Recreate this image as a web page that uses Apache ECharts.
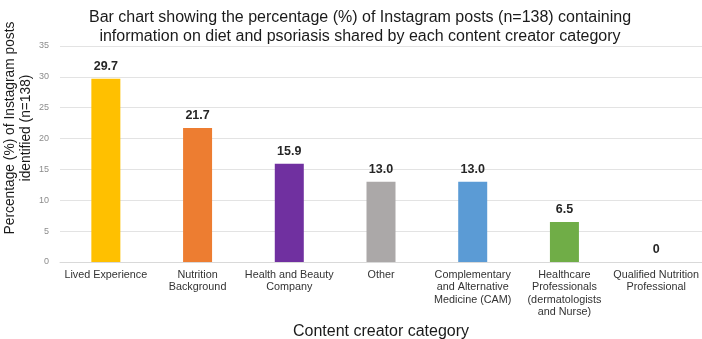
<!DOCTYPE html>
<html>
<head>
<meta charset="utf-8">
<script src="https://cdn.jsdelivr.net/npm/echarts@6/dist/echarts.min.js"></script>
<style>
html,body{margin:0;padding:0;background:#fff;}
#container{width:702px;height:339px;}
</style>
</head>
<body>
<div id="container"></div>
<script>
var categories = ['Lived Experience', 'Nutrition\nBackground', 'Health and Beauty\nCompany', 'Other',
	'Complementary\nand Alternative\nMedicine (CAM)', 'Healthcare\nProfessionals\n(dermatologists\nand Nurse)',
	'Qualified Nutrition\nProfessional'];
var percentages = [29.7, 21.7, 15.9, 13.0, 13.0, 6.5, 0];
var labelText = ['29.7', '21.7', '15.9', '13.0', '13.0', '6.5', '0'];
var barColors = ['#FFC000', '#ED7D31', '#7030A0', '#ABA8A8', '#5B9BD5', '#70AD47', '#A5A5A5'];
var yTicks = [0, 5, 10, 15, 20, 25, 30, 35];
var yName = 'Percentage (%) of Instagram posts\nidentified (n=138)';

var data = [];
for (var i = 0; i < percentages.length; i++) {
	data.push({value: percentages[i], itemStyle: {color: barColors[i]}});
}

var option = {
	animation: false,
	textStyle: {fontFamily: 'Liberation Sans, Arial, sans-serif'},
	title: {
		text: 'Bar chart showing the percentage (%) of Instagram posts (n=138) containing\ninformation on diet and psoriasis shared by each content creator category',
		left: 355,
		textAlign: 'center',
		top: 3,
		textStyle: {fontSize: 16, fontWeight: 'normal', color: '#1a1a1a', lineHeight: 19}
	},
	// y axis title, placed a little above the middle as in the original
	graphic: [{
		type: 'text',
		x: 18,
		y: 128,
		rotation: Math.PI / 2,
		scaleX: 0.95,
		style: {
			text: yName,
			font: '14.5px "Liberation Sans", Arial, sans-serif',
			fill: '#1a1a1a',
			lineHeight: 16,
			align: 'center',
			verticalAlign: 'middle'
		}
	}],
	grid: {left: 60, right: 0, top: 46, bottom: 77, outerBoundsMode: 'none', containLabel: false},
	xAxis: {
		type: 'category',
		data: categories,
		name: 'Content creator category',
		nameLocation: 'middle',
		nameGap: 62,
		nameTextStyle: {fontSize: 16, color: '#1a1a1a'},
		axisLine: {lineStyle: {color: '#d9d9d9'}},
		axisTick: {show: false},
		axisLabel: {interval: 0, fontSize: 10.8, color: '#333', lineHeight: 12.3, margin: 7}
	},
	yAxis: {
		type: 'value',
		min: 0,
		max: yTicks[yTicks.length - 1],
		interval: 5,
		axisLine: {show: false},
		axisTick: {show: false},
		axisLabel: {fontSize: 9, color: '#8c8c8c', margin: 11},
		splitLine: {lineStyle: {color: '#e3e3e3'}}
	},
	series: [{
		type: 'bar',
		data: data,
		barWidth: 29,
		label: {
			show: true,
			position: 'top',
			distance: 6,
			fontSize: 12.5,
			fontWeight: 'bold',
			color: '#262626',
			formatter: function (p) { return labelText[p.dataIndex]; }
		}
	}]
};

var mychart = echarts.init(document.getElementById('container'));
mychart.setOption(option);
</script>
</body>
</html>
